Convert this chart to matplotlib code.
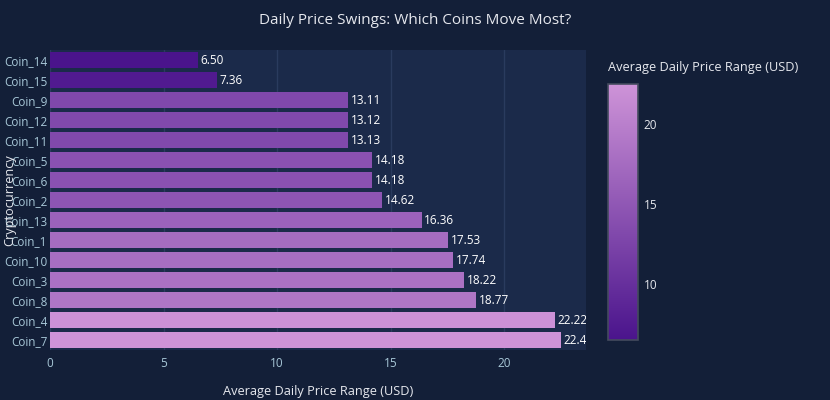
import matplotlib
matplotlib.use("Agg")
import matplotlib.pyplot as plt
import numpy as np
from matplotlib.colors import LinearSegmentedColormap, Normalize

coins = ["Coin_14", "Coin_15", "Coin_9", "Coin_12", "Coin_11", "Coin_5", "Coin_6", "Coin_2",
         "Coin_13", "Coin_1", "Coin_10", "Coin_3", "Coin_8", "Coin_4", "Coin_7"]
ranges = [6.50, 7.36, 13.11, 13.12, 13.13, 14.18, 14.18, 14.62,
          16.36, 17.53, 17.74, 18.22, 18.77, 22.22, 22.48]
x_ticks = [0, 5, 10, 15, 20]
cbar_ticks = [10, 15, 20]

plt.rcParams['font.family'] = ['Open Sans', 'DejaVu Sans']

paper_bg = '#131f38'
plot_bg = '#1b2a4a'
grid_c = '#2a3b5e'
tick_c = '#a8c8d8'
text_c = '#e6e8ee'

cmap = LinearSegmentedColormap.from_list('purp', ['#4a148c', '#ce93d8'])
norm = Normalize(vmin=min(ranges), vmax=max(ranges))

fig = plt.figure(figsize=(8.3, 4.0), dpi=100, facecolor=paper_bg)
ax = fig.add_axes([50/830, 0.125, 536/830, 0.75])
ax.set_facecolor(plot_bg)

y = np.arange(len(coins))
ax.barh(y, ranges, height=0.8, color=cmap(norm(np.array(ranges))), zorder=3)
ax.set_ylim(len(coins) - 0.5, -0.5)
ax.set_xlim(0, 23.6)
ax.set_yticks(y)
ax.set_yticklabels(coins)
ax.set_xticks(x_ticks)
ax.grid(axis='x', color=grid_c, linewidth=1, zorder=0)
for s in ax.spines.values():
    s.set_visible(False)
ax.tick_params(axis='both', length=0, colors=tick_c, labelsize=8.5)
ax.tick_params(axis='y', pad=2)
ax.tick_params(axis='x', pad=5)

for yi, v in zip(y, ranges):
    ax.text(v + 0.12, yi, f"{v:.2f}", va='center', ha='left', color='white',
            fontsize=8.5, clip_on=True, zorder=4)

fig.text(318/830, 1 - 391/400, "Average Daily Price Range (USD)", color=text_c,
         fontsize=9.2, ha='center', va='center')
fig.text(10/830, 0.5, "Cryptocurrency", rotation=90, color=text_c, fontsize=9.2,
         ha='center', va='center')

fig.text(415/830, 1 - 20/400, "Daily Price Swings: Which Coins Move Most?",
         color=text_c, fontsize=11.0, ha='center', va='center')

cax = fig.add_axes([608/830, 1 - 340/400, 30/830, 256/400])
sm = matplotlib.cm.ScalarMappable(norm=norm, cmap=cmap)
cb = fig.colorbar(sm, cax=cax)
cb.set_ticks(cbar_ticks)
cb.outline.set_edgecolor('#444b5e')
cb.outline.set_linewidth(1.2)
cax.tick_params(length=0, colors=text_c, labelsize=8.5, pad=4)
fig.text(608/830, 1 - 68/400, "Average Daily Price Range (USD)", color=text_c,
         fontsize=9.2, ha='left', va='center')

fig.savefig("out.png", dpi=100, facecolor=paper_bg)
